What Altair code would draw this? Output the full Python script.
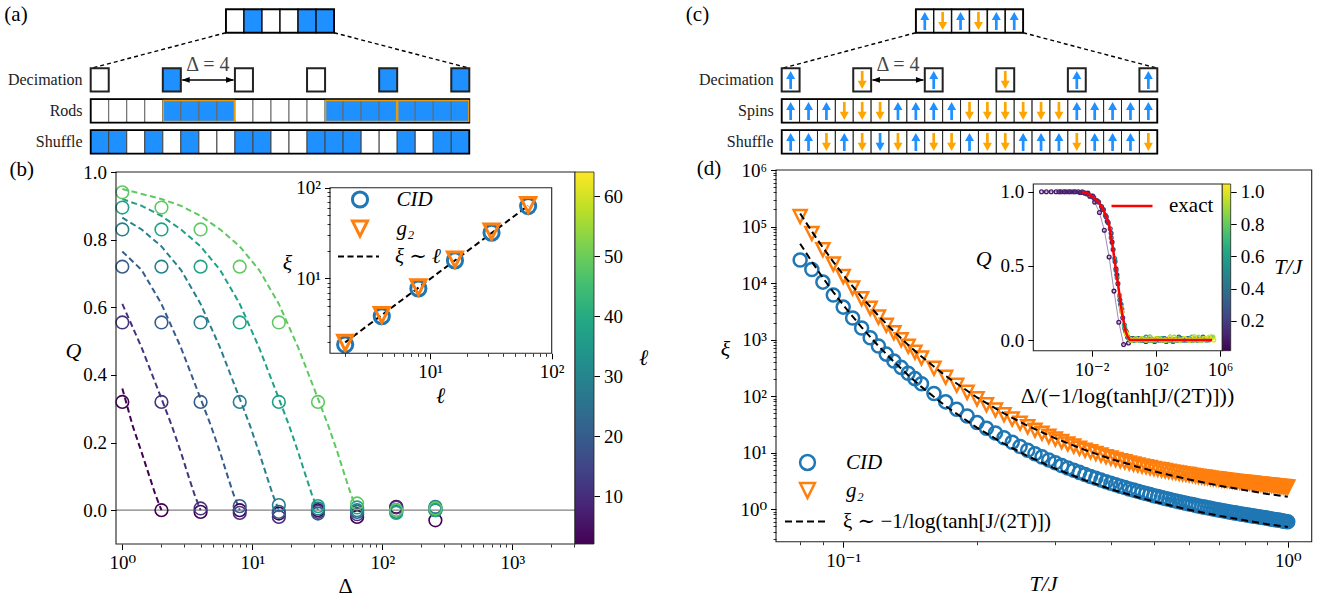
import altair as alt
import numpy as np
import pandas as pd

W, H = 1324, 602
FONT = "Liberation Serif, DejaVu Serif"
BLUE, ORANGE = "#1f77b4", "#ff7f0e"
CELL_BLUE, ARROW_ORANGE = "#1E90FF", "#FFA500"
VIRIDIS = ["#440154", "#482475", "#414487", "#355f8d", "#2a788e", "#21918c",
           "#22a884", "#44bf70", "#7ad151", "#bddf26", "#fde725"]

# ===================== data: schematics (a) and (c) =====================
A_TOP = [0, 1, 0, 0, 1, 1]
A_RODS = [0, 0, 0, 0, 1, 1, 1, 1, 0, 0, 0, 0, 0, 1, 1, 1, 1, 1, 1, 1, 1]
A_SHUFFLE = [1, 1, 0, 1, 0, 1, 0, 0, 1, 1, 0, 0, 1, 1, 1, 0, 0, 1, 0, 1, 1]
A_ROD_START = [4, 13, 17]
ROD_LEN = 4
DEC_IDX = [0, 4, 8, 12, 16, 20]
A_ROW_NAMES = ["Decimation", "Rods", "Shuffle"]

C_TOP = [1, -1, 1, -1, 1, 1]
C_SPINS = [1, 1, 1, -1, -1, -1, 1, 1, 1, 1, -1, -1, -1, -1, -1, -1, 1, 1, 1, 1, 1]
C_SHUFFLE = [1, 1, -1, 1, -1, -1, -1, 1, -1, -1, 1, -1, -1, 1, 1, 1, -1, 1, 1, 1, -1]
C_SHUFFLE_COL = ["b", "b", "o", "b", "o", "b", "o", "b", "o", "o", "b", "o", "o",
                 "b", "b", "b", "o", "b", "b", "b", "o"]
C_ROW_NAMES = ["Decimation", "Spins", "Shuffle"]
DELTA_TEXT = "Δ = 4"
PANEL_TAGS = ["(a)", "(b)", "(c)", "(d)"]

# ===================== data: panel (b) =====================
B_ELL = [2, 4, 8, 16, 32, 64]
B_COLORS = ["#440154", "#46337f", "#365c8d", "#277f8e", "#1fa187", "#5ec962"]
B_DELTA = [1, 2, 4, 8, 16, 32, 64, 128, 256]
B_Q_L2 = [0.32, 0.0, -0.005, 0.0, -0.01, 0.0, -0.02, 0.01, -0.03]
B_Q_L4 = [0.555, 0.32, 0.005, -0.008, -0.02, -0.005, -0.012, 0.008, 0.0]
B_Q_L8 = [0.72, 0.555, 0.32, 0.012, -0.005, -0.01, -0.005, 0.0, 0.005]
B_Q_L16 = [0.83, 0.72, 0.555, 0.32, 0.015, 0.005, 0.0, -0.005, 0.01]
B_Q_L32 = [0.895, 0.83, 0.72, 0.555, 0.32, 0.012, 0.008, -0.008, 0.0]
B_Q_L64 = [0.94, 0.895, 0.83, 0.72, 0.555, 0.32, 0.02, 0.0, 0.005]

B_FIT_D_L2 = [1, 1.2, 1.41, 1.6, 1.8, 2.0]
B_FIT_Q_L2 = [0.36, 0.25, 0.17, 0.105, 0.045, 0.0]
B_FIT_D_L4 = [1, 1.41, 2, 2.4, 2.83, 3.2, 3.6, 4]
B_FIT_Q_L4 = [0.61, 0.48, 0.33, 0.25, 0.17, 0.105, 0.045, 0.0]
B_FIT_D_L8 = [1, 1.41, 2, 2.83, 4, 4.8, 5.66, 6.4, 7.2, 8]
B_FIT_Q_L8 = [0.765, 0.71, 0.61, 0.48, 0.33, 0.25, 0.17, 0.105, 0.045, 0.0]
B_FIT_D_L16 = [1, 1.41, 2, 2.83, 4, 5.66, 8, 9.6, 11.3, 12.8, 14.4, 16]
B_FIT_Q_L16 = [0.865, 0.83, 0.78, 0.71, 0.61, 0.48, 0.33, 0.25, 0.17, 0.105, 0.045, 0.0]
B_FIT_D_L32 = [1, 1.41, 2, 2.83, 4, 5.66, 8, 11.3, 16, 19.2, 22.6, 25.6, 28.8, 32]
B_FIT_Q_L32 = [0.92, 0.90, 0.87, 0.83, 0.78, 0.71, 0.61, 0.48, 0.33, 0.25, 0.17, 0.105, 0.045, 0.0]
B_FIT_D_L64 = [1, 1.41, 2, 2.83, 4, 5.66, 8, 11.3, 16, 22.6, 32, 38.4, 45.3, 51.2, 57.6, 64]
B_FIT_Q_L64 = [0.95, 0.935, 0.92, 0.90, 0.87, 0.83, 0.78, 0.71, 0.61, 0.48, 0.33, 0.25, 0.17, 0.105, 0.045, 0.0]

BI_ELL = [2, 4, 8, 16, 32, 64]
BI_XI_CID = [1.87, 3.84, 7.76, 15.8, 31.9, 62.7]
BI_XI_G2 = [1.95, 3.95, 8.0, 16.2, 32.8, 64.5]
BI_FIT_ELL = [2, 64]
BI_FIT_XI = [1.98, 63.3]

# ===================== data: panel (d) =====================
D_T = [0.080, 0.085, 0.090, 0.095, 0.100, 0.105, 0.110, 0.115, 0.120, 0.125, 0.130, 0.135,
       0.140, 0.145, 0.150, 0.16, 0.17, 0.18, 0.19, 0.20, 0.21, 0.22, 0.23, 0.24, 0.25, 0.26,
       0.27, 0.28, 0.29, 0.30, 0.31, 0.32, 0.33, 0.34, 0.35, 0.36, 0.37, 0.38, 0.39, 0.40,
       0.41, 0.42, 0.43, 0.44, 0.45, 0.46, 0.47, 0.48, 0.49, 0.50, 0.51, 0.52, 0.53, 0.54,
       0.55, 0.56, 0.57, 0.58, 0.59, 0.60, 0.61, 0.62, 0.63, 0.64, 0.65, 0.66, 0.67, 0.68,
       0.69, 0.70, 0.71, 0.72, 0.73, 0.74, 0.75, 0.76, 0.77, 0.78, 0.79, 0.80, 0.81, 0.82,
       0.83, 0.84, 0.85, 0.86, 0.87, 0.88, 0.89, 0.90, 0.91, 0.92, 0.93, 0.94, 0.95, 0.96,
       0.97, 0.98, 0.99, 1.00]
D_XI_CID = [25490, 17370, 10370, 6150, 3744, 2395, 1598, 1076, 769, 551, 416, 321, 253, 203,
            165, 111, 78.8, 58.1, 44.4, 34.1, 26.9, 22.1, 18.2, 15.2, 12.8, 11.0, 9.54, 8.37,
            7.38, 6.58, 5.91, 5.34, 4.86, 4.45, 4.09, 3.77, 3.50, 3.26, 3.05, 2.86,
            2.69, 2.53, 2.40, 2.27, 2.16, 2.06, 1.96, 1.88, 1.80, 1.72, 1.66, 1.60, 1.54, 1.49,
            1.43, 1.39, 1.34, 1.30, 1.27, 1.23, 1.20, 1.16, 1.13, 1.10, 1.08, 1.05, 1.03, 1.00,
            0.982, 0.964, 0.941, 0.922, 0.905, 0.887, 0.870, 0.854, 0.839, 0.824, 0.811, 0.798,
            0.784, 0.772, 0.760, 0.748, 0.737, 0.727, 0.716, 0.706, 0.697, 0.687, 0.675, 0.663,
            0.654, 0.646, 0.638, 0.631, 0.620, 0.610, 0.603, 0.596]
D_XI_G2 = [150270, 75270, 38810, 21620, 13000, 8143, 5281, 3588, 2495, 1788, 1314, 989, 760,
           594, 472, 311, 215, 155, 116, 89.0, 70.2, 56.5, 46.8, 39.1, 33.0, 28.5, 24.8, 21.9,
           19.3, 17.4, 15.6, 14.2, 13.0, 11.9, 11.0, 10.3, 9.61, 9.02, 8.42, 7.96,
           7.55, 7.17, 6.83, 6.53, 6.25, 6.00, 5.79, 5.60, 5.40, 5.21, 5.06, 4.93, 4.78, 4.65,
           4.53, 4.43, 4.32, 4.21, 4.13, 4.06, 3.97, 3.89, 3.81, 3.74, 3.67, 3.61, 3.54, 3.48,
           3.43, 3.38, 3.32, 3.28, 3.23, 3.19, 3.15, 3.11, 3.07, 3.03, 3.00, 2.97, 2.94, 2.91,
           2.88, 2.85, 2.81, 2.78, 2.76, 2.74, 2.70, 2.68, 2.66, 2.64, 2.61, 2.59, 2.56, 2.54,
           2.51, 2.49, 2.47, 2.45]
D_FIT_T = [0.08, 0.085, 0.09, 0.095, 0.10, 0.11, 0.12, 0.13, 0.14, 0.15, 0.17, 0.20, 0.23,
           0.26, 0.30, 0.35, 0.40, 0.46, 0.52, 0.60, 0.70, 0.80, 0.90, 1.00]
D_FIT_G2 = [170390, 81700, 42490, 23670, 13990, 5636, 2640, 1391, 804, 499, 227, 94.2, 49.1,
            29.7, 17.8, 11.05, 7.72, 5.56, 4.32, 3.33, 2.60, 2.16, 1.85, 1.645]
D_FIT_CID = [49640, 23800, 12380, 6895, 4075, 1642, 769, 405, 234, 145, 66.2, 27.5, 14.3,
             8.66, 5.18, 3.22, 2.25, 1.62, 1.26, 0.97, 0.76, 0.63, 0.54, 0.48]
D_FIT_LABEL = "ξ ∼ −1/log(tanh[J/(2T)])"

# inset of (d): Q versus Delta / theta(T)
INSET_T = [0.08, 0.10, 0.15, 0.20, 0.30, 0.40, 0.50, 0.60, 0.75, 0.90, 1.00]
INSET_THETA = [134168, 11013, 393, 74.2, 14.0, 6.08, 3.67, 2.62, 1.85, 1.462, 1.295]
INSET_DELTA = [1, 2, 4, 8, 16, 32, 64, 128, 256, 512, 1024, 2048, 4096, 8192, 16384, 32768,
               65536, 131072, 262144, 524288]
Q_T008 = [1, 1, 1, 1, 1, 1, 1, 1, 0.995, 0.99, 0.97, 0.93, 0.86, 0.74, 0.56, 0.33, 0.12, -0.03, -0.02, 0.01]
Q_T010 = [1, 1, 1, 1, 1, 0.995, 0.99, 0.97, 0.935, 0.88, 0.80, 0.66, 0.44, 0.21, 0.05, 0.0, 0.01, 0.0, -0.01, 0.0]
Q_T015 = [1.0, 0.985, 0.97, 0.94, 0.90, 0.83, 0.72, 0.48, 0.24, 0.06, 0.01, 0.0, 0.01, 0.0, 0.0, -0.01, 0.0, 0.01, 0.0, 0.0]
Q_T020 = [0.96, 0.93, 0.88, 0.79, 0.61, 0.38, 0.15, 0.02, 0.0, 0.01, 0.0, 0.0, 0.0, 0.01, 0.0, -0.01, 0.0, 0.0, 0.01, 0.0]
Q_T030 = [0.84, 0.75, 0.53, 0.27, 0.08, 0.01, 0.0, 0.01, 0.0, 0.0, 0.0, 0.01, 0.0, 0.0, -0.01, 0.0, 0.0, 0.01, 0.0, 0.0]
Q_T040 = [0.69, 0.47, 0.24, 0.06, 0.0, 0.01, 0.0, 0.0, 0.02, 0.0, 0.0, 0.01, 0.0, 0.0, 0.02, 0.0, 0.01, 0.0, 0.0, 0.02]
Q_T050 = [0.55, 0.30, 0.10, 0.01, 0.0, 0.0, 0.01, 0.0, 0.0, 0.0, 0.01, 0.0, 0.0, 0.0, 0.01, 0.0, 0.0, 0.01, 0.0, 0.0]
Q_T060 = [0.42, 0.19, 0.04, 0.0, 0.01, 0.0, 0.02, 0.0, 0.0, 0.01, 0.0, 0.02, 0.0, 0.0, 0.01, 0.0, 0.02, 0.0, 0.01, 0.0]
Q_T075 = [0.30, 0.09, 0.01, 0.0, 0.0, 0.01, 0.0, 0.0, 0.01, 0.0, 0.0, 0.0, 0.01, 0.0, 0.0, 0.02, 0.0, 0.01, 0.0, 0.02]
Q_T090 = [0.22, 0.05, 0.0, 0.01, 0.0, 0.0, 0.02, 0.0, 0.01, 0.0, 0.0, 0.02, 0.0, 0.01, 0.0, 0.0, 0.02, 0.0, 0.01, 0.02]
Q_T100 = [0.19, 0.04, 0.0, 0.0, 0.01, 0.0, 0.0, 0.01, 0.0, 0.0, 0.02, 0.0, 0.0, 0.01, 0.0, 0.02, 0.0, 0.01, 0.02, 0.0]
EXACT_LOGX = [-2.6, -2.2, -1.855, -1.5, -1.234, -0.92, -0.716, -0.51, -0.30, -0.095, 0.11, 0.25, 0.38, 5.5]
EXACT_Q = [1.0, 0.985, 0.96, 0.92, 0.87, 0.78, 0.645, 0.49, 0.33, 0.17, 0.06, 0.02, 0.0, 0.0]

# ===================== layout: (domain, pixel range) per panel =====================
SA_X = ([0, 21], [90.7, 469.3])
SC_X = ([0, 21], [781.7, 1157.3])
S_Y = ([0, 5], [9.3, 164.3])
PX_X = ([0, W], [0, W])
PX_Y = ([0, H], [0, H])
B_X = ([0.894, 3036], [116, 575])
B_Y = ([-0.1, 1.0], [544, 172])
BI_X = ([1.5, 100], [330, 551.7])
BI_Y = ([1.5, 100], [353.3, 187.7])
CB_X = ([0, 1], [575, 594])
CB_Y = ([2, 64], [544, 172])
D_X = ([0.0706, 1.132], [776, 1311.7])
D_Y = ([0.264, 1e6], [541.7, 170])
DI_X = ([-5.64, 6.14], [1033.3, 1222.3])
DI_Y = ([-0.072, 1.052], [350.7, 184])
CD_X = ([0, 1], [1222.3, 1230.7])
CD_Y = ([0.016, 1.048], [350.7, 184])

ROW_TOP, ROW_DEC, ROW_MAIN, ROW_SHUF = 0.0, 1.9, 2.9, 3.9
ROW_H = 0.755
TOP_X0 = 7.5

UP_PATH = "M0,-1L0.5,-0.1L0.15,-0.1L0.15,1L-0.15,1L-0.15,-0.1L-0.5,-0.1Z"
DOWN_PATH = "M0,1L0.5,0.1L0.15,0.1L0.15,-1L-0.15,-1L-0.15,0.1L-0.5,0.1Z"
LEFT_HEAD = "M-1,0L1,-0.7L1,0.7Z"
RIGHT_HEAD = "M1,0L-1,-0.7L-1,0.7Z"
TRI_DOWN = "M0,1L-1,-1L1,-1Z"


def sc(g, log=False):
    dom, rng = g
    if log:
        return alt.Scale(type="log", domain=dom, range=rng, nice=False)
    return alt.Scale(type="linear", domain=dom, range=rng, nice=False, zero=False)


SUP = str.maketrans("-0123456789", "⁻⁰¹²³⁴⁵⁶⁷⁸⁹")


def pow_expr(exps, logvalues=False):
    s = "''"
    for e in reversed(exps):
        if logvalues:
            cond = f"abs(datum.value - ({e})) < 1e-6"
        else:
            cond = f"abs(log(datum.value)/LN10 - ({e})) < 1e-6"
        s = f"({cond}) ? '10{str(e).translate(SUP)}' : {s}"
    return s


def axis(orient, pos, values, minor=False, expr=None, fmt=None, title=None, tx=0, ty=0,
         tstyle="italic", fs=19):
    if orient == "bottom":
        off = pos - H
    elif orient == "left":
        off = -pos
    else:
        off = pos - W
    kw = dict(orient=orient, offset=off, values=values, grid=False, domain=False, ticks=True,
              tickColor="black", tickWidth=0.8 if minor else 1.0,
              tickSize=3 if minor else 5.5, labels=not minor, zindex=5)
    if not minor:
        kw.update(labelFont=FONT, labelFontSize=fs, labelColor="black", labelPadding=4,
                  labelFlush=False, labelOverlap=False)
        if expr:
            kw["labelExpr"] = expr
        if fmt:
            kw["format"] = fmt
    if title:
        kw.update(title=title, titleX=tx, titleY=ty, titleAngle=0, titleAlign="center",
                  titleBaseline="middle", titleFont=FONT, titleFontSize=22,
                  titleFontWeight="normal", titleFontStyle=tstyle, titleColor="black")
    else:
        kw["title"] = None
    return alt.Axis(**kw)


def leg(x, y, size, sw, offset, rowpad=8, italic=True, dash=None, fs=21):
    kw = dict(orient="none", legendX=x, legendY=y, title=None, direction="vertical",
              labelFont=FONT, labelFontSize=fs, labelColor="black",
              labelFontStyle="italic" if italic else "normal",
              symbolSize=size, symbolStrokeWidth=sw, labelOffset=offset, rowPadding=rowpad,
              padding=0, symbolOpacity=1, labelLimit=500)
    if dash:
        kw["symbolDash"] = dash
    return alt.Legend(**kw)


def frame_df(gx, gy):
    return pd.DataFrame({"x0": [gx[0][0]], "x1": [gx[0][1]], "y0": [gy[0][0]], "y1": [gy[0][1]]})


def rect_layer(df, gx, gy, xlog=False, ylog=False, xaxis=None, yaxis=None, **mark):
    return alt.Chart(df).mark_rect(**mark).encode(
        x=alt.X("x0:Q", scale=sc(gx, xlog), axis=xaxis), x2=alt.X2("x1:Q"),
        y=alt.Y("y0:Q", scale=sc(gy, ylog), axis=yaxis), y2=alt.Y2("y1:Q"))


layers = []


# ===================== schematic builder =====================
def schematic(gx, top_vals, main_vals, shuf_vals, kind, names, shuf_cols=None):
    cells = []
    rowc = lambda y0: y0 + ROW_H / 2

    def add(x0, y0, v, stroke, sw, col=None):
        fill = (CELL_BLUE if v else "white") if kind == "a" else "white"
        cells.append(dict(x0=x0, x1=x0 + 1, y0=y0, y1=y0 + ROW_H, fill=fill, stroke=stroke,
                          sw=sw, xc=x0 + 0.5, yc=rowc(y0), v=v,
                          col=col if col else (CELL_BLUE if v > 0 else ARROW_ORANGE)))
    for i, v in enumerate(top_vals):
        add(TOP_X0 + i, ROW_TOP, v, "#111111", 1.4)
    for k in DEC_IDX:
        add(k, ROW_DEC, main_vals[k], "#222222", 2.0)
    for i, v in enumerate(main_vals):
        add(i, ROW_MAIN, v, "#666666" if kind == "a" else "#222222", 1.0)
    for i, v in enumerate(shuf_vals):
        c = None
        if shuf_cols is not None:
            c = CELL_BLUE if shuf_cols[i] == "b" else ARROW_ORANGE
        add(i, ROW_SHUF, v, "#444444" if kind == "a" else "#222222", 1.0, c)
    cdf = pd.DataFrame(cells)
    out = []
    conn = pd.DataFrame({"x": [TOP_X0, TOP_X0 + 6], "y": [ROW_H, ROW_H],
                         "x2": [0.05, 21.0], "y2": [ROW_DEC, ROW_DEC]})
    out.append(alt.Chart(conn).mark_rule(strokeDash=[4, 3], color="black", strokeWidth=1.4).encode(
        x=alt.X("x:Q", scale=sc(gx), axis=None), x2="x2:Q",
        y=alt.Y("y:Q", scale=sc(S_Y), axis=None), y2="y2:Q"))
    out.append(alt.Chart(cdf).mark_rect().encode(
        x=alt.X("x0:Q", scale=sc(gx), axis=None), x2="x1:Q",
        y=alt.Y("y0:Q", scale=sc(S_Y), axis=None), y2="y1:Q",
        fill=alt.Fill("fill:N", scale=None), stroke=alt.Stroke("stroke:N", scale=None),
        strokeWidth=alt.StrokeWidth("sw:Q", scale=None)))
    outline = pd.DataFrame({"x0": [TOP_X0, 0, 0], "x1": [TOP_X0 + 6, 21, 21],
                            "y0": [ROW_TOP, ROW_MAIN, ROW_SHUF],
                            "y1": [ROW_TOP + ROW_H, ROW_MAIN + ROW_H, ROW_SHUF + ROW_H]})
    out.append(rect_layer(outline, gx, S_Y, fillOpacity=0, stroke="black", strokeWidth=1.8))
    if kind == "a":
        rods = pd.DataFrame({"x0": [s + 0.03 for s in A_ROD_START],
                             "x1": [s + ROD_LEN - 0.03 for s in A_ROD_START],
                             "y0": [ROW_MAIN + 0.04] * 3, "y1": [ROW_MAIN + ROW_H - 0.04] * 3})
        out.append(rect_layer(rods, gx, S_Y, fillOpacity=0, stroke="#E89B10", strokeWidth=1.4))
    else:
        adf = cdf.copy()
        adf["path"] = [UP_PATH if v > 0 else DOWN_PATH for v in adf["v"]]
        out.append(alt.Chart(adf).mark_point(filled=True, opacity=1, strokeWidth=0, size=324).encode(
            x=alt.X("xc:Q", scale=sc(gx), axis=None), y=alt.Y("yc:Q", scale=sc(S_Y), axis=None),
            shape=alt.Shape("path:N", scale=None), fill=alt.Fill("col:N", scale=None)))
    dec_c = ROW_DEC + ROW_H / 2
    arr = pd.DataFrame({"x": [5.08], "x2": [7.92], "y": [dec_c]})
    out.append(alt.Chart(arr).mark_rule(color="black", strokeWidth=1.5).encode(
        x=alt.X("x:Q", scale=sc(gx), axis=None), x2="x2:Q",
        y=alt.Y("y:Q", scale=sc(S_Y), axis=None)))
    heads = pd.DataFrame({"x": [5.27, 7.73], "y": [dec_c, dec_c], "path": [LEFT_HEAD, RIGHT_HEAD]})
    out.append(alt.Chart(heads).mark_point(filled=True, opacity=1, strokeWidth=0, size=64,
                                           color="black").encode(
        x=alt.X("x:Q", scale=sc(gx), axis=None), y=alt.Y("y:Q", scale=sc(S_Y), axis=None),
        shape=alt.Shape("path:N", scale=None)))
    dtxt = pd.DataFrame({"x": [6.5], "y": [1.8], "t": [DELTA_TEXT]})
    out.append(alt.Chart(dtxt).mark_text(font=FONT, fontSize=20, color="#444444", align="center",
                                         baseline="middle").encode(
        x=alt.X("x:Q", scale=sc(gx), axis=None), y=alt.Y("y:Q", scale=sc(S_Y), axis=None), text="t:N"))
    lab = pd.DataFrame({"x": [-0.45] * 3, "y": [rowc(ROW_DEC), rowc(ROW_MAIN), rowc(ROW_SHUF)],
                        "t": names})
    out.append(alt.Chart(lab).mark_text(font=FONT, fontSize=16, color="#222222", align="right",
                                        baseline="middle").encode(
        x=alt.X("x:Q", scale=sc(gx), axis=None), y=alt.Y("y:Q", scale=sc(S_Y), axis=None), text="t:N"))
    return out


layers += schematic(SA_X, A_TOP, A_RODS, A_SHUFFLE, "a", A_ROW_NAMES)
layers += schematic(SC_X, C_TOP, C_SPINS, C_SHUFFLE, "c", C_ROW_NAMES, C_SHUFFLE_COL)

# panel tags
tags = pd.DataFrame({"x": [16, 21.7, 697.5, 709], "y": [15, 170, 15, 169], "t": PANEL_TAGS})
layers.append(alt.Chart(tags).mark_text(font=FONT, fontSize=21, color="black", align="center",
                                        baseline="middle").encode(
    x=alt.X("x:Q", scale=sc(PX_X), axis=None), y=alt.Y("y:Q", scale=sc(PX_Y), axis=None), text="t:N"))

# ===================== panel (b) =====================
b_q_lists = [B_Q_L2, B_Q_L4, B_Q_L8, B_Q_L16, B_Q_L32, B_Q_L64]
b_fit_d = [B_FIT_D_L2, B_FIT_D_L4, B_FIT_D_L8, B_FIT_D_L16, B_FIT_D_L32, B_FIT_D_L64]
b_fit_q = [B_FIT_Q_L2, B_FIT_Q_L4, B_FIT_Q_L8, B_FIT_Q_L16, B_FIT_Q_L32, B_FIT_Q_L64]
pts = []
for ell, col, ql in zip(B_ELL, B_COLORS, b_q_lists):
    for d, q in zip(B_DELTA, ql):
        pts.append(dict(ell=ell, d=d, q=q, color=col))
b_pts = pd.DataFrame(pts)
fits = []
for ell, col, dl, ql in zip(B_ELL, B_COLORS, b_fit_d, b_fit_q):
    for i, (d, q) in enumerate(zip(dl, ql)):
        fits.append(dict(ell=ell, d=d, q=q, color=col, i=i))
b_fits = pd.DataFrame(fits)

hline = pd.DataFrame({"x0": [B_X[0][0]], "x1": [B_X[0][1]], "y": [0.0]})
layers.append(alt.Chart(hline).mark_rule(color="#808080", strokeWidth=1.2).encode(
    x=alt.X("x0:Q", scale=sc(B_X, True), axis=None), x2="x1:Q",
    y=alt.Y("y:Q", scale=sc(B_Y), axis=None)))
layers.append(alt.Chart(b_fits).mark_line(strokeDash=[6, 3.5], strokeWidth=2).encode(
    x=alt.X("d:Q", scale=sc(B_X, True), axis=None), y=alt.Y("q:Q", scale=sc(B_Y), axis=None),
    color=alt.Color("color:N", scale=None), detail="ell:N", order="i:Q"))
layers.append(alt.Chart(b_pts).mark_point(shape="circle", filled=False, size=160, strokeWidth=1.6,
                                          opacity=1).encode(
    x=alt.X("d:Q", scale=sc(B_X, True), axis=None), y=alt.Y("q:Q", scale=sc(B_Y), axis=None),
    color=alt.Color("color:N", scale=None)))
b_xminor = [m * 10 ** e for e in range(0, 3) for m in range(2, 10)] + [2000, 3000]
layers.append(rect_layer(frame_df(B_X, B_Y), B_X, B_Y, xlog=True,
                         xaxis=axis("bottom", 544, [1, 10, 100, 1000], expr=pow_expr([0, 1, 2, 3]),
                                    title="Δ", tx=345, ty=41, tstyle="normal"),
                         yaxis=axis("left", 116, [0, 0.2, 0.4, 0.6, 0.8, 1.0], fmt=".1f",
                                    title="Q", tx=-43, ty=350),
                         fillOpacity=0, stroke="#222222", strokeWidth=1.1))
layers.append(rect_layer(frame_df(B_X, B_Y), B_X, B_Y, xlog=True,
                         xaxis=axis("bottom", 544, b_xminor, minor=True), opacity=0))

# colorbar (b)
grad = alt.LinearGradient(gradient="linear",
                          stops=[alt.GradientStop(color=c, offset=i / 10) for i, c in enumerate(VIRIDIS)],
                          x1=0, x2=0, y1=1, y2=0)
layers.append(rect_layer(frame_df(CB_X, CB_Y), CB_X, CB_Y,
                         yaxis=axis("right", 594, [10, 20, 30, 40, 50, 60], fmt="d",
                                    title="ℓ", tx=49, ty=357),
                         fill=grad, stroke="#222222", strokeWidth=0.8))

# inset (b)
layers.append(rect_layer(frame_df(BI_X, BI_Y), BI_X, BI_Y, True, True, color="white"))
bi_fit = pd.DataFrame({"ell": BI_FIT_ELL, "xi": BI_FIT_XI, "lab": ["ξ ∼ ℓ"] * 2})
layers.append(alt.Chart(bi_fit).mark_line(strokeDash=[6, 3.5], strokeWidth=2).encode(
    x=alt.X("ell:Q", scale=sc(BI_X, True), axis=None), y=alt.Y("xi:Q", scale=sc(BI_Y, True), axis=None),
    color=alt.Color("lab:N", scale=alt.Scale(domain=["ξ ∼ ℓ"], range=["black"]),
                    legend=leg(337, 235, 1681, 2, 15, dash=[6, 3.5]))))
bi_pts = pd.DataFrame({"ell": BI_ELL + BI_ELL, "xi": BI_XI_CID + BI_XI_G2,
                       "s": ["CID"] * 6 + ["g₂"] * 6})
bi_leg = leg(349.5, 189, 230, 3, 26, rowpad=0)
layers.append(alt.Chart(bi_pts).mark_point(filled=False, size=230, strokeWidth=3, opacity=1).encode(
    x=alt.X("ell:Q", scale=sc(BI_X, True), axis=None), y=alt.Y("xi:Q", scale=sc(BI_Y, True), axis=None),
    color=alt.Color("s:N", scale=alt.Scale(domain=["CID", "g₂"], range=[BLUE, ORANGE]), legend=bi_leg),
    shape=alt.Shape("s:N", scale=alt.Scale(domain=["CID", "g₂"], range=["circle", TRI_DOWN]),
                    legend=bi_leg)))
bi_minor = [m * 10 ** e for e in range(0, 2) for m in range(2, 10)]
layers.append(rect_layer(frame_df(BI_X, BI_Y), BI_X, BI_Y, True, True,
                         xaxis=axis("bottom", 353.3, [10, 100], expr=pow_expr([1, 2]),
                                    title="ℓ", tx=440, ty=41.7),
                         yaxis=axis("left", 330, [10, 100], expr=pow_expr([1, 2]),
                                    title="ξ", tx=-43, ty=262),
                         fillOpacity=0, stroke="#222222", strokeWidth=1.1))
layers.append(rect_layer(frame_df(BI_X, BI_Y), BI_X, BI_Y, True, True,
                         xaxis=axis("bottom", 353.3, bi_minor, minor=True),
                         yaxis=axis("left", 330, bi_minor, minor=True), opacity=0))

# ===================== panel (d) =====================
d_pts = pd.DataFrame({"T": D_T + D_T, "xi": D_XI_CID + D_XI_G2,
                      "s": ["CID"] * len(D_T) + ["g₂"] * len(D_T)})
d_leg = leg(797, 452, 220, 2.5, 28, rowpad=3)
layers.append(alt.Chart(d_pts).mark_point(filled=False, size=170, strokeWidth=2.5, opacity=1).encode(
    x=alt.X("T:Q", scale=sc(D_X, True), axis=None), y=alt.Y("xi:Q", scale=sc(D_Y, True), axis=None),
    color=alt.Color("s:N", scale=alt.Scale(domain=["CID", "g₂"], range=[BLUE, ORANGE]), legend=d_leg),
    shape=alt.Shape("s:N", scale=alt.Scale(domain=["CID", "g₂"], range=["circle", TRI_DOWN]),
                    legend=d_leg)))
d_fit = pd.DataFrame({"T": D_FIT_T + D_FIT_T, "xi": D_FIT_G2 + D_FIT_CID,
                      "w": ["g2"] * len(D_FIT_T) + ["cid"] * len(D_FIT_T),
                      "lab": [D_FIT_LABEL] * (2 * len(D_FIT_T))})
layers.append(alt.Chart(d_fit).mark_line(strokeDash=[7, 4], strokeWidth=2).encode(
    x=alt.X("T:Q", scale=sc(D_X, True), axis=None), y=alt.Y("xi:Q", scale=sc(D_Y, True), axis=None),
    detail="w:N",
    color=alt.Color("lab:N", scale=alt.Scale(domain=[D_FIT_LABEL], range=["black"]),
                    legend=leg(784, 500, 1681, 2, 16, italic=False, dash=[7, 4]))))
d_xminor = [0.08, 0.09, 0.2, 0.3, 0.4, 0.5, 0.6, 0.7, 0.8, 0.9]
d_yminor = [m * 10.0 ** e for e in range(-1, 6) for m in range(2, 10) if m * 10.0 ** e >= 0.27]
layers.append(rect_layer(frame_df(D_X, D_Y), D_X, D_Y, True, True,
                         xaxis=axis("bottom", 541.7, [0.1, 1.0], expr=pow_expr([-1, 0]),
                                    title="T/J", tx=1043, ty=41.3),
                         yaxis=axis("left", 776, [1, 10, 100, 1e3, 1e4, 1e5, 1e6],
                                    expr=pow_expr([0, 1, 2, 3, 4, 5, 6]),
                                    title="ξ", tx=-51, ty=348),
                         fillOpacity=0, stroke="#222222", strokeWidth=1.1))
layers.append(rect_layer(frame_df(D_X, D_Y), D_X, D_Y, True, True,
                         xaxis=axis("bottom", 541.7, d_xminor, minor=True),
                         yaxis=axis("left", 776, d_yminor, minor=True), opacity=0))

# inset (d)
inset_q = [Q_T008, Q_T010, Q_T015, Q_T020, Q_T030, Q_T040, Q_T050, Q_T060, Q_T075, Q_T090, Q_T100]
rows = []
for t, th, ql in zip(INSET_T, INSET_THETA, inset_q):
    for d, q in zip(INSET_DELTA, ql):
        rows.append(dict(T=t, lx=float(np.log10(d / th)), q=q))
di = pd.DataFrame(rows)
layers.append(rect_layer(frame_df(DI_X, DI_Y), DI_X, DI_Y, color="white"))
tscale = alt.Scale(scheme="viridis", domain=[0.016, 1.048])
layers.append(alt.Chart(di).mark_line(strokeWidth=1.0, opacity=0.5).encode(
    x=alt.X("lx:Q", scale=sc(DI_X), axis=None), y=alt.Y("q:Q", scale=sc(DI_Y), axis=None),
    color=alt.Color("T:Q", scale=tscale, legend=None), detail="T:N"))
layers.append(alt.Chart(di).mark_point(filled=False, size=14, strokeWidth=1.4, opacity=1).encode(
    x=alt.X("lx:Q", scale=sc(DI_X), axis=None), y=alt.Y("q:Q", scale=sc(DI_Y), axis=None),
    color=alt.Color("T:Q", scale=tscale, legend=None)))
ex = pd.DataFrame({"lx": EXACT_LOGX, "q": EXACT_Q, "lab": ["exact"] * len(EXACT_Q)})
layers.append(alt.Chart(ex).mark_line(strokeWidth=2.5).encode(
    x=alt.X("lx:Q", scale=sc(DI_X), axis=None), y=alt.Y("q:Q", scale=sc(DI_Y), axis=None),
    color=alt.Color("lab:N", scale=alt.Scale(domain=["exact"], range=["red"]),
                    legend=leg(1110, 184, 1681, 2.5, 15, italic=False))))
layers.append(rect_layer(frame_df(DI_X, DI_Y), DI_X, DI_Y,
                         xaxis=axis("bottom", 350.7, [-2, 2, 6], expr=pow_expr([-2, 2, 6], True),
                                    title="Δ/(−1/log(tanh[J/(2T)]))", tx=1127, ty=44.3,
                                    tstyle="normal"),
                         yaxis=axis("left", 1033.3, [0.0, 0.5, 1.0], fmt=".1f",
                                    title="Q", tx=-50, ty=258),
                         fillOpacity=0, stroke="#222222", strokeWidth=1.1))
layers.append(rect_layer(frame_df(CD_X, CD_Y), CD_X, CD_Y,
                         yaxis=axis("right", 1230.7, [0.2, 0.4, 0.6, 0.8, 1.0], fmt=".1f",
                                    title="T/J", tx=57, ty=266),
                         fill=grad, stroke="#222222", strokeWidth=0.8))

chart = alt.layer(*layers).resolve_scale(
    x="independent", y="independent", color="independent", shape="independent",
    strokeDash="independent", size="independent", opacity="independent",
    fill="independent", stroke="independent"
).properties(
    width=W, height=H, autosize=alt.AutoSizeParams(type="none"), padding=0, background="white"
).configure_view(stroke=None)

chart.save("out.html", embed_options={"renderer": "svg", "actions": False})
